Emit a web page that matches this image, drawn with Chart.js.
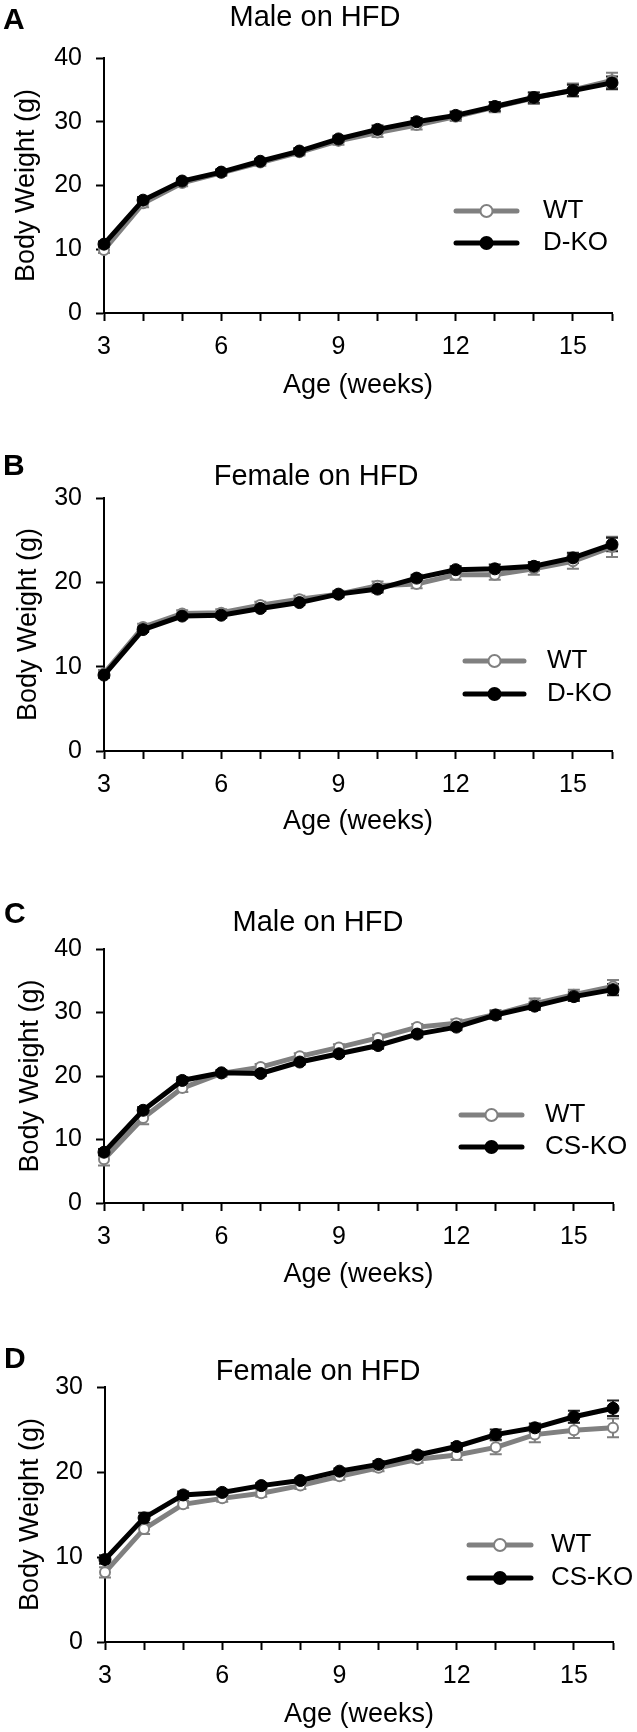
<!DOCTYPE html>
<html>
<head>
<meta charset="utf-8">
<script src="https://cdn.jsdelivr.net/npm/chart.js@4.4.0/dist/chart.umd.min.js"></script>
<style>
  html, body { margin: 0; padding: 0; background: #fff; }
  #page { position: relative; width: 637px; height: 1732px; }
  canvas { position: absolute; left: 0; }
</style>
</head>
<body>
<div id="page">
  <canvas id="panelA" width="637" height="440" style="top:0px"></canvas>
  <canvas id="panelB" width="637" height="420" style="top:440px"></canvas>
  <canvas id="panelC" width="637" height="440" style="top:860px"></canvas>
  <canvas id="panelD" width="637" height="432" style="top:1300px"></canvas>
</div>
<script>
const weeks = [3, 4, 5, 6, 7, 8, 9, 10, 11, 12, 13, 14, 15, 16];
const xTickLabels = [3, 6, 9, 12, 15];
const maleTicks = [0, 10, 20, 30, 40];
const femaleTicks = [0, 10, 20, 30];

// A: male, D-KO
const maleDWt = [9.9, 17.2, 20.4, 22.0, 23.6, 25.2, 27.0, 28.3, 29.5, 30.8, 32.3, 33.7, 35.0, 36.5];
const maleDWtSem = [0.5, 0.6, 0.5, 0.5, 0.5, 0.5, 0.6, 0.7, 0.7, 0.7, 0.8, 0.9, 1.0, 1.2];
const maleDKo = [10.8, 17.7, 20.7, 22.1, 23.8, 25.4, 27.3, 28.8, 30.0, 31.0, 32.4, 33.8, 34.9, 36.1];
const maleDKoSem = [0.4, 0.5, 0.4, 0.4, 0.4, 0.5, 0.5, 0.6, 0.6, 0.6, 0.7, 0.8, 0.9, 1.0];

// B: female, D-KO
const femaleDWt = [9.2, 14.7, 16.3, 16.4, 17.3, 18.0, 18.6, 19.6, 19.8, 20.9, 20.9, 21.6, 22.5, 24.2];
const femaleDWtSem = [0.4, 0.4, 0.4, 0.4, 0.4, 0.4, 0.4, 0.5, 0.5, 0.6, 0.6, 0.7, 0.9, 1.2];
const femaleDKo = [9.0, 14.4, 16.0, 16.1, 16.9, 17.6, 18.6, 19.2, 20.5, 21.5, 21.6, 21.9, 22.9, 24.5];
const femaleDKoSem = [0.3, 0.3, 0.3, 0.3, 0.3, 0.3, 0.3, 0.4, 0.4, 0.4, 0.5, 0.5, 0.6, 0.8];

// C: male, CS-KO
const maleCsWt = [6.9, 13.4, 18.1, 20.4, 21.4, 23.1, 24.5, 26.0, 27.7, 28.3, 29.7, 31.4, 32.8, 34.1];
const maleCsWtSem = [1.0, 1.0, 0.6, 0.5, 0.5, 0.5, 0.5, 0.5, 0.5, 0.6, 0.7, 0.8, 0.8, 1.0];
const maleCsKo = [8.0, 14.6, 19.3, 20.5, 20.4, 22.2, 23.5, 24.8, 26.6, 27.7, 29.6, 31.0, 32.5, 33.6];
const maleCsKoSem = [0.5, 0.5, 0.5, 0.4, 0.4, 0.4, 0.4, 0.5, 0.5, 0.5, 0.6, 0.6, 0.7, 0.9];

// D: female, CS-KO
const femaleCsWt = [8.2, 13.3, 16.2, 16.9, 17.5, 18.4, 19.5, 20.5, 21.5, 22.0, 22.9, 24.4, 24.9, 25.2];
const femaleCsWtSem = [0.6, 0.6, 0.4, 0.4, 0.4, 0.4, 0.4, 0.4, 0.4, 0.6, 0.8, 0.9, 0.9, 1.1];
const femaleCsKo = [9.7, 14.6, 17.3, 17.6, 18.4, 19.0, 20.1, 20.9, 22.0, 23.0, 24.4, 25.2, 26.5, 27.5];
const femaleCsKoSem = [0.5, 0.6, 0.4, 0.3, 0.3, 0.3, 0.3, 0.4, 0.4, 0.4, 0.6, 0.5, 0.7, 0.9];

const GREY = '#808080';
const FONT = "'Liberation Sans', Arial, sans-serif";

// error bars, drawn behind the lines
const errorBars = {
    id: 'errorBars',
    beforeDatasetsDraw(chart) {
        const ctx = chart.ctx;
        const y = chart.scales.y;
        chart.data.datasets.forEach((ds, di) => {
            const meta = chart.getDatasetMeta(di);
            ctx.save();
            ctx.strokeStyle = ds.errColor;
            ctx.lineWidth = 2;
            meta.data.forEach((pt, i) => {
                const v = ds.data[i].y;
                const top = y.getPixelForValue(v + ds.sem[i]);
                const bot = y.getPixelForValue(v - ds.sem[i]);
                ctx.beginPath();
                ctx.moveTo(pt.x, top); ctx.lineTo(pt.x, bot);
                ctx.moveTo(pt.x - 6, top); ctx.lineTo(pt.x + 6, top);
                ctx.moveTo(pt.x - 6, bot); ctx.lineTo(pt.x + 6, bot);
                ctx.stroke();
            });
            ctx.restore();
        });
    }
};

// panel letter, title, axis titles and legend (page coords, shifted by canvas top)
const decor = {
    id: 'decor',
    afterDraw(chart, args, o) {
        const ctx = chart.ctx;
        const area = chart.chartArea;
        const off = o.offset;
        ctx.save();
        ctx.fillStyle = '#000';
        ctx.textBaseline = 'middle';

        ctx.font = 'bold 30px ' + FONT;
        ctx.textAlign = 'left';
        ctx.fillText(o.letter, o.letterX, o.letterY - off);

        ctx.font = '29px ' + FONT;
        ctx.textAlign = 'center';
        ctx.fillText(o.title, o.titleX, o.titleY - off);

        ctx.font = '27px ' + FONT;
        ctx.fillText('Age (weeks)', (area.left + area.right) / 2, o.xTitleY - off);

        ctx.save();
        ctx.translate(o.yTitleX, (area.top + area.bottom) / 2);
        ctx.rotate(-Math.PI / 2);
        ctx.fillText('Body Weight (g)', 0, 0);
        ctx.restore();

        // legend: line with marker in the middle, label on the right
        chart.data.datasets.forEach((ds, i) => {
            const ly = o.legendY[i] - off;
            ctx.strokeStyle = ds.borderColor;
            ctx.lineWidth = 5;
            ctx.lineCap = 'round';
            ctx.beginPath();
            ctx.moveTo(o.legendX1, ly);
            ctx.lineTo(o.legendX2, ly);
            ctx.stroke();
            ctx.beginPath();
            ctx.arc((o.legendX1 + o.legendX2) / 2, ly, 6, 0, Math.PI * 2);
            ctx.fillStyle = ds.pointBackgroundColor;
            ctx.fill();
            ctx.lineWidth = 2;
            ctx.strokeStyle = ds.pointBorderColor;
            ctx.stroke();
            ctx.fillStyle = '#000';
            ctx.textAlign = 'left';
            ctx.font = '26px ' + FONT;
            ctx.fillText(ds.label, o.legendText, ly);
        });
        ctx.restore();
    }
};

function toPoints(vals) {
    return weeks.map((w, i) => ({ x: w, y: vals[i] }));
}

function createPanel(id, p) {
    const canvas = document.getElementById(id);
    const off = parseInt(canvas.style.top, 10);
    const H = canvas.height;
    const yW = 85, xH = 60;
    const tickFont = { family: FONT, size: 25 };
    p.decor.offset = off;
    new Chart(canvas, {
        type: 'line',
        data: {
            datasets: [{
                label: 'WT',
                data: toPoints(p.wt),
                sem: p.wtSem,
                errColor: GREY,
                borderColor: GREY,
                borderWidth: 5,
                pointRadius: 5,
                pointBorderWidth: 2,
                pointBackgroundColor: '#fff',
                pointBorderColor: GREY,
                order: 2,
                clip: false
            }, {
                label: p.koName,
                data: toPoints(p.ko),
                sem: p.koSem,
                errColor: '#222',
                borderColor: '#000',
                borderWidth: 5,
                pointRadius: 6,
                pointBorderWidth: 1,
                pointBackgroundColor: '#000',
                pointBorderColor: '#000',
                order: 1,
                clip: false
            }]
        },
        options: {
            responsive: false,
            animation: false,
            layout: {
                padding: {
                    left: p.left - yW,
                    right: canvas.width - p.right,
                    top: p.top - off,
                    bottom: H - (p.bottom - off) - xH
                }
            },
            plugins: {
                legend: { display: false },
                tooltip: { enabled: false },
                decor: p.decor
            },
            scales: {
                x: {
                    type: 'linear',
                    min: 3,
                    max: 16,
                    afterFit: s => { s.height = xH; },
                    afterBuildTicks: s => { s.ticks = weeks.map(w => ({ value: w })); },
                    ticks: {
                        autoSkip: false,
                        maxRotation: 0,
                        padding: 11,
                        color: '#000',
                        font: tickFont,
                        callback: v => xTickLabels.includes(v) ? String(v) : ''
                    },
                    grid: { drawOnChartArea: false, tickLength: 8, tickColor: '#000', tickWidth: 2, color: '#000' },
                    border: { color: '#000', width: 2 }
                },
                y: {
                    min: 0,
                    max: p.yTicks[p.yTicks.length - 1],
                    afterFit: s => { s.width = yW; },
                    afterBuildTicks: s => { s.ticks = p.yTicks.map(v => ({ value: v })); },
                    ticks: { padding: 14, color: '#000', font: tickFont },
                    grid: { drawOnChartArea: false, tickLength: 8, tickColor: '#000', tickWidth: 2, color: '#000' },
                    border: { color: '#000', width: 2 }
                }
            }
        },
        plugins: [errorBars, decor]
    });
}

document.addEventListener('DOMContentLoaded', () => {
    createPanel('panelA', {
        wt: maleDWt, wtSem: maleDWtSem, ko: maleDKo, koSem: maleDKoSem, koName: 'D-KO',
        yTicks: maleTicks, left: 104, right: 612, top: 58, bottom: 313,
        decor: { letter: 'A', letterX: 3, letterY: 21, title: 'Male on HFD', titleX: 315, titleY: 18,
                 xTitleY: 386, yTitleX: 27, legendX1: 456, legendX2: 517, legendY: [211, 243], legendText: 543 }
    });
    createPanel('panelB', {
        wt: femaleDWt, wtSem: femaleDWtSem, ko: femaleDKo, koSem: femaleDKoSem, koName: 'D-KO',
        yTicks: femaleTicks, left: 104, right: 612, top: 498, bottom: 751,
        decor: { letter: 'B', letterX: 3, letterY: 467, title: 'Female on HFD', titleX: 316, titleY: 477,
                 xTitleY: 822, yTitleX: 29, legendX1: 465, legendX2: 524, legendY: [661, 694], legendText: 547 }
    });
    createPanel('panelC', {
        wt: maleCsWt, wtSem: maleCsWtSem, ko: maleCsKo, koSem: maleCsKoSem, koName: 'CS-KO',
        yTicks: maleTicks, left: 104, right: 613, top: 949, bottom: 1203,
        decor: { letter: 'C', letterX: 4, letterY: 915, title: 'Male on HFD', titleX: 318, titleY: 923,
                 xTitleY: 1275, yTitleX: 31, legendX1: 461, legendX2: 522, legendY: [1115, 1147], legendText: 545 }
    });
    createPanel('panelD', {
        wt: femaleCsWt, wtSem: femaleCsWtSem, ko: femaleCsKo, koSem: femaleCsKoSem, koName: 'CS-KO',
        yTicks: femaleTicks, left: 105, right: 613, top: 1387, bottom: 1642,
        decor: { letter: 'D', letterX: 4, letterY: 1360, title: 'Female on HFD', titleX: 318, titleY: 1372,
                 xTitleY: 1715, yTitleX: 31, legendX1: 469, legendX2: 531, legendY: [1545, 1578], legendText: 551 }
    });
});
</script>
</body>
</html>
